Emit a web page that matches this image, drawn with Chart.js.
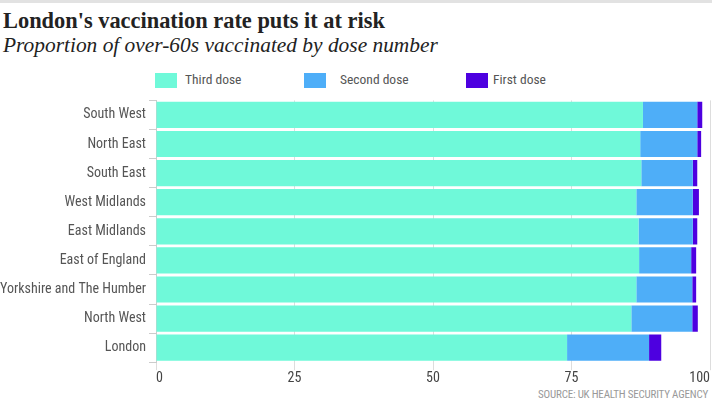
<!DOCTYPE html>
<html>
  <head>
    <meta charset="UTF-8">
    <title>London's vaccination rate puts it at risk</title>
    <script src="https://cdn.jsdelivr.net/npm/chart.js"></script>
    <style>
      body { margin: 0; width: 712px; height: 412px; background: #fff; position: relative; overflow: hidden; }
      #topline { position: absolute; left: 0; top: 0; width: 712px; height: 3px; background: #e2e2e2; }
      .cond { font-family: 'Liberation Sans Narrow', 'Roboto Condensed', 'DejaVu Sans Condensed', sans-serif; }
      #title { position: absolute; left: 3px; top: 8px; font: bold 22.4px 'Liberation Serif', serif; color: #222; }
      #subtitle { position: absolute; left: 3px; top: 33px; font: italic 21.4px 'Liberation Serif', serif; color: #222; }
      #legend { position: absolute; top: 71px; left: 0; font-size: 13.5px; color: #555; }
      .item { position: absolute; white-space: nowrap; }
      .item span.box { position: absolute; top: 2px; width: 22px; height: 15px; }
      .item span.txt { position: absolute; top: 0; }
      #source { position: absolute; right: 4px; top: 388px; font-size: 11px; color: #999; letter-spacing: -0.2px; }
      #wrap { position: absolute; left: 0; top: 89px; width: 712px; height: 298px; }
    </style>
  </head>
  <body>
    <div id="topline"></div>
    <div id="title">London's vaccination rate puts it at risk</div>
    <div id="subtitle">Proportion of over-60s vaccinated by dose number</div>
    <div id="legend" class="cond"></div>
    <div id="source" class="cond">SOURCE: UK HEALTH SECURITY AGENCY</div>
    <div id="wrap"><canvas id="myChart"></canvas></div>

    <script>
      // values, percent of over-60s
      const regions = ['South West', 'North East', 'South East', 'West Midlands', 'East Midlands',
                       'East of England', 'Yorkshire and The Humber', 'North West', 'London'];
      const thirdDose  = [87.9, 87.4, 87.6, 86.7, 87.1, 87.2, 86.7, 85.8, 74.2];
      const secondDose = [9.8, 10.3, 9.3, 10.2, 9.8, 9.4, 10.1, 11.0, 14.8];
      const firstDose  = [0.9, 0.7, 0.8, 1.1, 0.8, 0.9, 0.7, 1.0, 2.2];
      const xTicks = [0, 25, 50, 75, 100];

      const colors = ['#6ff9d9', '#4eaef8', '#4d00e0'];
      const names = ['Third dose', 'Second dose', 'First dose'];

      // legend
      const legendPos = [[155, 185], [304, 340], [466, 493]];
      const legend = document.getElementById('legend');
      names.forEach(function (n, i) {
        const d = document.createElement('div');
        d.className = 'item';
        d.innerHTML = '<span class="box" style="left:' + legendPos[i][0] + 'px;background:' + colors[i] + '"></span>' +
                      '<span class="txt" style="left:' + legendPos[i][1] + 'px">' + n + '</span>';
        legend.appendChild(d);
      });

      const condFont = "'Liberation Sans Narrow', 'Roboto Condensed', 'DejaVu Sans Condensed', sans-serif";

      const ctx = document.getElementById('myChart').getContext('2d');
      new Chart(ctx, {
        type: 'bar',
        data: {
          labels: regions,
          datasets: [
            { label: names[0], data: thirdDose, backgroundColor: colors[0] },
            { label: names[1], data: secondDose, backgroundColor: colors[1] },
            { label: names[2], data: firstDose, backgroundColor: colors[2] }
          ]
        },
        options: {
          indexAxis: 'y',
          responsive: true,
          maintainAspectRatio: false,
          animation: false,
          layout: { padding: { top: 7.5, right: 2, left: 0, bottom: 0 } },
          datasets: { bar: { barPercentage: 0.9, categoryPercentage: 1.0 } },
          plugins: { legend: { display: false }, tooltip: { enabled: false } },
          scales: {
            x: {
              stacked: true,
              min: 0, max: 100,
              afterBuildTicks: function (s) { s.ticks = xTicks.map(v => ({ value: v })); },
              afterFit: function (s) { s.paddingLeft = 0; s.paddingRight = 0; },
              grid: { color: '#dddddd', tickLength: 8, drawTicks: true },
              border: { display: false },
              ticks: { color: '#444', font: { family: condFont, size: 14 }, padding: 0, align: 'inner' }
            },
            y: {
              stacked: true,
              afterFit: function (s) { s.width = 156; },
              grid: { drawOnChartArea: false, color: '#cccccc', tickLength: 7 },
              border: { display: true, color: '#cccccc' },
              ticks: { color: '#555', font: { family: condFont, size: 14 }, padding: 3 }
            }
          }
        }
      });
    </script>
  </body>
</html>
